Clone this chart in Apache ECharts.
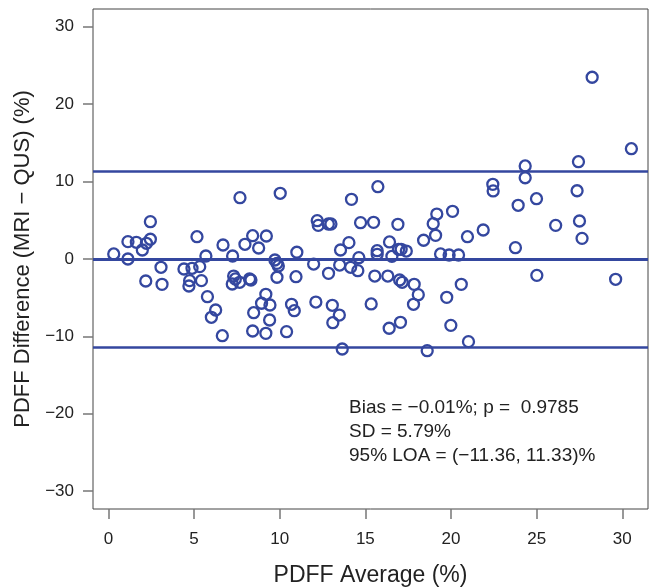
<!DOCTYPE html>
<html>
<head>
<meta charset="utf-8">
<script src="https://cdn.jsdelivr.net/npm/echarts@6/dist/echarts.min.js"></script>
<style>
  html, body { margin: 0; padding: 0; background: #fff; }
  #chart { width: 653px; height: 587px; }
</style>
</head>
<body>
<div id="chart"></div>
<script>
// PDFF average (x) and difference MRI - QUS (y)
const avgValues = [
  7.68, 10.03, 14.19, 2.45, 12.19, 12.25, 12.84, 12.99, 14.72, 1.14,
  1.63, 2.45, 2.22, 1.98, 5.17, 6.69, 7.97, 8.42, 8.77, 9.22,
  14.04, 13.55, 0.31, 1.14, 5.69, 7.25, 11.0, 14.62, 9.72, 9.84,
  9.92, 11.98, 13.5, 14.14, 14.56, 3.07, 4.41, 4.88, 5.33, 4.74,
  4.70, 5.43, 2.18, 3.13, 7.31, 7.41, 7.23, 7.66, 8.24, 8.32,
  9.84, 10.95, 12.85, 5.78, 9.19, 8.94, 9.43, 10.69, 10.85, 12.11,
  13.07, 6.26, 6.01, 8.48, 9.41, 13.48, 13.1, 6.65, 8.42, 9.19,
  10.4, 13.65,
  24.33, 27.44, 15.73, 22.44, 22.46, 24.33, 27.36, 24.99, 23.92, 19.17,
  18.96, 19.1, 20.09, 15.48, 16.9, 26.11, 27.5, 27.65, 21.88, 20.96,
  18.4, 16.41, 15.69, 15.69, 16.55, 16.94, 17.09, 17.39, 19.39, 19.89,
  20.44, 23.76, 15.55, 16.31, 17.0, 17.15, 17.85, 18.09, 20.6, 25.01,
  29.61, 15.34, 17.81, 19.75, 16.39, 17.05, 19.99, 21.02, 18.61, 28.24,
  30.53
];
const diffValues = [
  7.92, 8.49, 7.71, 4.82, 4.95, 4.35, 4.52, 4.52, 4.69, 2.24,
  2.16, 2.55, 2.03, 1.16, 2.88, 1.81, 1.90, 3.01, 1.42, 2.97,
  2.11, 1.16, 0.65, 0.0, 0.39, 0.39, 0.87, 0.17, -0.13, -0.56,
  -0.9, -0.65, -0.78, -1.07, -1.51, -1.07, -1.29, -1.2, -0.99, -2.8,
  -3.49, -2.8, -2.84, -3.27, -2.2, -2.58, -3.23, -3.01, -2.58, -2.71,
  -2.36, -2.29, -1.85, -4.87, -4.56, -5.72, -5.94, -5.85, -6.68, -5.56,
  -5.98, -6.59, -7.53, -6.94, -7.88, -7.24, -8.23, -9.91, -9.3, -9.6,
  -9.39, -11.63,
  12.02, 12.57, 9.34, 9.65, 8.79, 10.5, 8.82, 7.79, 6.94, 5.81,
  4.56, 3.06, 6.16, 4.74, 4.48, 4.35, 4.91, 2.67, 3.75, 2.88,
  2.42, 2.2, 1.07, 0.61, 0.35, 1.25, 1.25, 1.03, 0.65, 0.52,
  0.52, 1.46, -2.2, -2.2, -2.71, -3.01, -3.27, -4.61, -3.27, -2.11,
  -2.62, -5.81, -5.85, -4.95, -8.95, -8.18, -8.57, -10.68, -11.85, 23.48,
  14.25
];
const refLines = [-0.01, 11.33, -11.36]; // bias, upper LOA, lower LOA
const xTicks = [0, 5, 10, 15, 20, 25, 30];
const yTicks = [-30, -20, -10, 0, 10, 20, 30];
const statLines = [
  'Bias = \u22120.01%; p =  0.9785',
  'SD = 5.79%',
  '95% LOA = (\u221211.36, 11.33)%'
];

const blue = '#34479f';
const font = '"Liberation Sans", Arial, sans-serif';
const points = avgValues.map((x, i) => [x, diffValues[i]]);
const minus = v => (v < 0 ? '\u2212' + Math.abs(v) : String(v));

const chart = echarts.init(document.getElementById('chart'));
chart.setOption({
  animation: false,
  grid: {
    show: true,
    left: 93,
    right: 5,
    top: 9,
    bottom: 78,
    outerBoundsMode: 'none',
    containLabel: false,
    borderColor: '#444',
    borderWidth: 1
  },
  xAxis: {
    type: 'value',
    min: -0.9,
    max: 31.5,
    name: 'PDFF Average (%)',
    nameLocation: 'middle',
    nameGap: 55,
    nameTextStyle: { fontSize: 23, color: '#222', fontFamily: font },
    axisLine: { show: false, onZero: false },
    axisTick: { show: true, length: 10, customValues: xTicks, lineStyle: { color: '#777', width: 1.5 } },
    axisLabel: { customValues: xTicks, margin: 22, fontSize: 17, color: '#222', fontFamily: font },
    splitLine: { show: false }
  },
  yAxis: {
    type: 'value',
    min: -32.3,
    max: 32.3,
    name: 'PDFF Difference (MRI \u2212 QUS) (%)',
    nameLocation: 'middle',
    nameGap: 58,
    nameTextStyle: { fontSize: 22, color: '#222', fontFamily: font },
    axisLine: { show: false, onZero: false },
    axisTick: { show: true, length: 10, customValues: yTicks, lineStyle: { color: '#777', width: 1.5 } },
    axisLabel: { customValues: yTicks, margin: 19, fontSize: 17, color: '#222', fontFamily: font, formatter: minus },
    splitLine: { show: false }
  },
  series: [{
    type: 'scatter',
    data: points,
    symbol: 'circle',
    symbolSize: 11,
    itemStyle: { color: 'rgba(255,255,255,0)', borderColor: blue, borderWidth: 2.3, opacity: 1 },
    markLine: {
      silent: true,
      symbol: 'none',
      label: { show: false },
      data: refLines.map((v, i) => ({
        yAxis: v,
        lineStyle: { color: blue, type: 'solid', width: i === 0 ? 3 : 2.5 }
      }))
    }
  }],
  graphic: statLines.map((t, i) => ({
    type: 'text',
    left: 349,
    top: 398 + i * 24,
    style: { text: t, fontSize: 19, fill: '#222', fontFamily: font }
  }))
});
</script>
</body>
</html>
